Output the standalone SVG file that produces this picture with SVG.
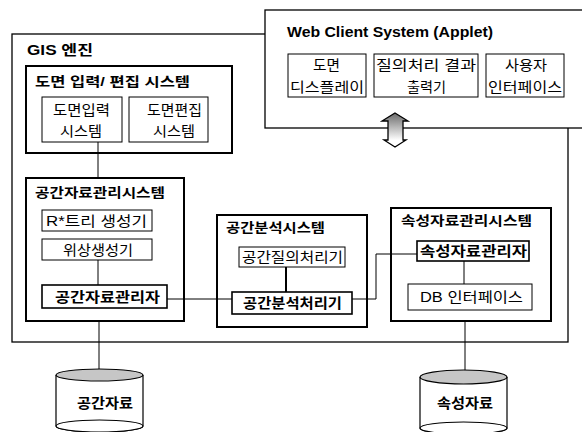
<svg xmlns="http://www.w3.org/2000/svg" width="582" height="432" viewBox="0 0 582 432">
  <defs>
    <linearGradient id="shade" x1="0" y1="0" x2="0" y2="1">
      <stop offset="0" stop-color="#6a6a6a"/>
      <stop offset="0.8" stop-color="#ffffff"/>
    </linearGradient>
  </defs>
  <style>
    .frame{fill:#fff;stroke:#000;stroke-width:1.3}
    .sys{fill:#fff;stroke:#000;stroke-width:2}
    .box{fill:#fff;stroke:#000;stroke-width:1}
    .boxb{fill:#fff;stroke:#000;stroke-width:1.6}
    .wire{fill:none;stroke:#000;stroke-width:1}
    .wire2{fill:none;stroke:#000;stroke-width:2}
    .cyl{fill:#fff;stroke:#000;stroke-width:1.2}
    .lid{fill:#c6c6c6;stroke:#000;stroke-width:1.2}
    text{font-family:"Liberation Sans","Noto Sans CJK KR",sans-serif;fill:#000;dominant-baseline:central}
    .h{font-size:13px;font-weight:bold}
    .hw{font-size:14px;font-weight:bold}
    .l{font-size:14px}
    .lb{font-size:14px;font-weight:bold}
    .dbt{font-size:14px;font-weight:bold}
  </style>

  <!-- GIS engine frame -->
  <g id="gis-engine">
    <rect class="frame" x="12" y="34" width="556" height="308"/>
    <text class="hw" x="27" y="50" textLength="66" lengthAdjust="spacingAndGlyphs">GIS 엔진</text>
  </g>

  <!-- Web client (applet) -->
  <g id="web-client">
    <rect class="frame" x="265" y="10" width="330" height="118"/>
    <text class="hw" x="287" y="32" textLength="206" lengthAdjust="spacingAndGlyphs">Web Client System (Applet)</text>
  </g>
  <g id="map-display">
    <rect class="box" x="288" y="54" width="78" height="43"/>
    <text class="l" x="313" y="65" textLength="27" lengthAdjust="spacingAndGlyphs">도면</text>
    <text class="l" x="290" y="87" textLength="74" lengthAdjust="spacingAndGlyphs">디스플레이</text>
  </g>
  <g id="query-output">
    <rect class="box" x="374" y="54" width="104" height="43"/>
    <text class="l" x="376" y="65" textLength="100" lengthAdjust="spacingAndGlyphs">질의처리 결과</text>
    <text class="l" x="407" y="87" textLength="39" lengthAdjust="spacingAndGlyphs">출력기</text>
  </g>
  <g id="user-interface">
    <rect class="box" x="486" y="54" width="78" height="43"/>
    <text class="l" x="505" y="65" textLength="42" lengthAdjust="spacingAndGlyphs">사용자</text>
    <text class="l" x="488" y="87" textLength="74" lengthAdjust="spacingAndGlyphs">인터페이스</text>
  </g>

  <!-- map input / edit subsystem -->
  <g id="map-io-system">
    <rect class="sys" x="26" y="66" width="206" height="87"/>
    <text class="h" x="35" y="81" textLength="155" lengthAdjust="spacingAndGlyphs">도면 입력/ 편집 시스템</text>
  </g>
  <g id="map-input">
    <rect class="box" x="42" y="97" width="80" height="45"/>
    <text class="l" x="53" y="110" textLength="57" lengthAdjust="spacingAndGlyphs">도면입력</text>
    <text class="l" x="60" y="131" textLength="42" lengthAdjust="spacingAndGlyphs">시스템</text>
  </g>
  <g id="map-edit">
    <rect class="box" x="129" y="97" width="79" height="45"/>
    <text class="l" x="147" y="110" textLength="55" lengthAdjust="spacingAndGlyphs">도면편집</text>
    <text class="l" x="153" y="131" textLength="42" lengthAdjust="spacingAndGlyphs">시스템</text>
  </g>

  <!-- spatial data management subsystem -->
  <g id="spatial-data-system">
    <rect class="sys" x="26" y="178" width="158" height="143"/>
    <text class="h" x="35" y="192" textLength="130" lengthAdjust="spacingAndGlyphs">공간자료관리시스템</text>
  </g>
  <g id="rtree-builder">
    <rect class="box" x="42" y="210" width="110" height="21"/>
    <text class="l" x="46" y="220.5" textLength="101" lengthAdjust="spacingAndGlyphs">R*트리 생성기</text>
  </g>
  <g id="topology-builder">
    <rect class="box" x="42" y="239" width="110" height="21"/>
    <text class="l" x="63" y="249.5" textLength="70" lengthAdjust="spacingAndGlyphs">위상생성기</text>
  </g>
  <g id="spatial-data-manager">
    <rect class="boxb" x="42" y="285" width="125" height="23"/>
    <text class="lb" x="55" y="297" textLength="105" lengthAdjust="spacingAndGlyphs">공간자료관리자</text>
  </g>

  <!-- spatial analysis subsystem -->
  <g id="spatial-analysis-system">
    <rect class="sys" x="217" y="215" width="150" height="112"/>
    <text class="h" x="226" y="227" textLength="99" lengthAdjust="spacingAndGlyphs">공간분석시스템</text>
  </g>
  <g id="spatial-query">
    <rect class="box" x="239" y="247" width="106" height="20"/>
    <text class="l" x="242" y="257" textLength="101" lengthAdjust="spacingAndGlyphs">공간질의처리기</text>
  </g>
  <g id="spatial-analyzer">
    <rect class="boxb" x="232" y="292" width="120" height="22"/>
    <text class="lb" x="243" y="303" textLength="99" lengthAdjust="spacingAndGlyphs">공간분석처리기</text>
  </g>

  <!-- attribute data management subsystem -->
  <g id="attribute-data-system">
    <rect class="sys" x="391" y="208" width="160" height="113"/>
    <text class="h" x="401" y="220" textLength="131" lengthAdjust="spacingAndGlyphs">속성자료관리시스템</text>
  </g>
  <g id="attribute-data-manager">
    <rect class="boxb" x="417" y="241" width="112" height="20"/>
    <text class="lb" x="420" y="251" textLength="107" lengthAdjust="spacingAndGlyphs">속성자료관리자</text>
  </g>
  <g id="db-interface">
    <rect class="box" x="408" y="284" width="124" height="26"/>
    <text class="l" x="420" y="297" textLength="103" lengthAdjust="spacingAndGlyphs">DB 인터페이스</text>
  </g>

  <!-- data stores -->
  <g id="spatial-data-store">
    <path class="cyl" d="M56,375 V426 A43.5,6 0 0 0 143,426 V375"/>
    <ellipse class="cyl" cx="99.5" cy="426" rx="43.5" ry="6" fill="none"/>
    <ellipse class="lid" cx="99.5" cy="375" rx="43.5" ry="6"/>
    <text class="dbt" x="77" y="403" textLength="56" lengthAdjust="spacingAndGlyphs">공간자료</text>
  </g>
  <g id="attribute-data-store">
    <path class="cyl" d="M420,377 V428 A43.5,6 0 0 0 507,428 V377"/>
    <ellipse class="cyl" cx="463.5" cy="428" rx="43.5" ry="6" fill="none"/>
    <ellipse class="lid" cx="463.5" cy="377" rx="43.5" ry="7"/>
    <text class="dbt" x="437" y="403" textLength="56" lengthAdjust="spacingAndGlyphs">속성자료</text>
  </g>

  <!-- connectors -->
  <g id="connectors">
    <path class="wire" d="M98,142 V178"/>
    <path class="wire" d="M98,260 V285"/>
    <path class="wire" d="M167,299 H232"/>
    <path class="wire2" d="M286,267 V292"/>
    <path class="wire" d="M352,299 H376 V254 H417"/>
    <path class="wire" d="M464,261 V284"/>
    <path class="wire" d="M99,321 V369"/>
    <path class="wire" d="M465,321 V370"/>
    <path d="M395,113 L408,121 H403 V140 H406 L395,147 L384,140 H388 V121 H382 Z" fill="url(#shade)" stroke="#000" stroke-width="1.3" stroke-linejoin="miter"/>
  </g>
</svg>
